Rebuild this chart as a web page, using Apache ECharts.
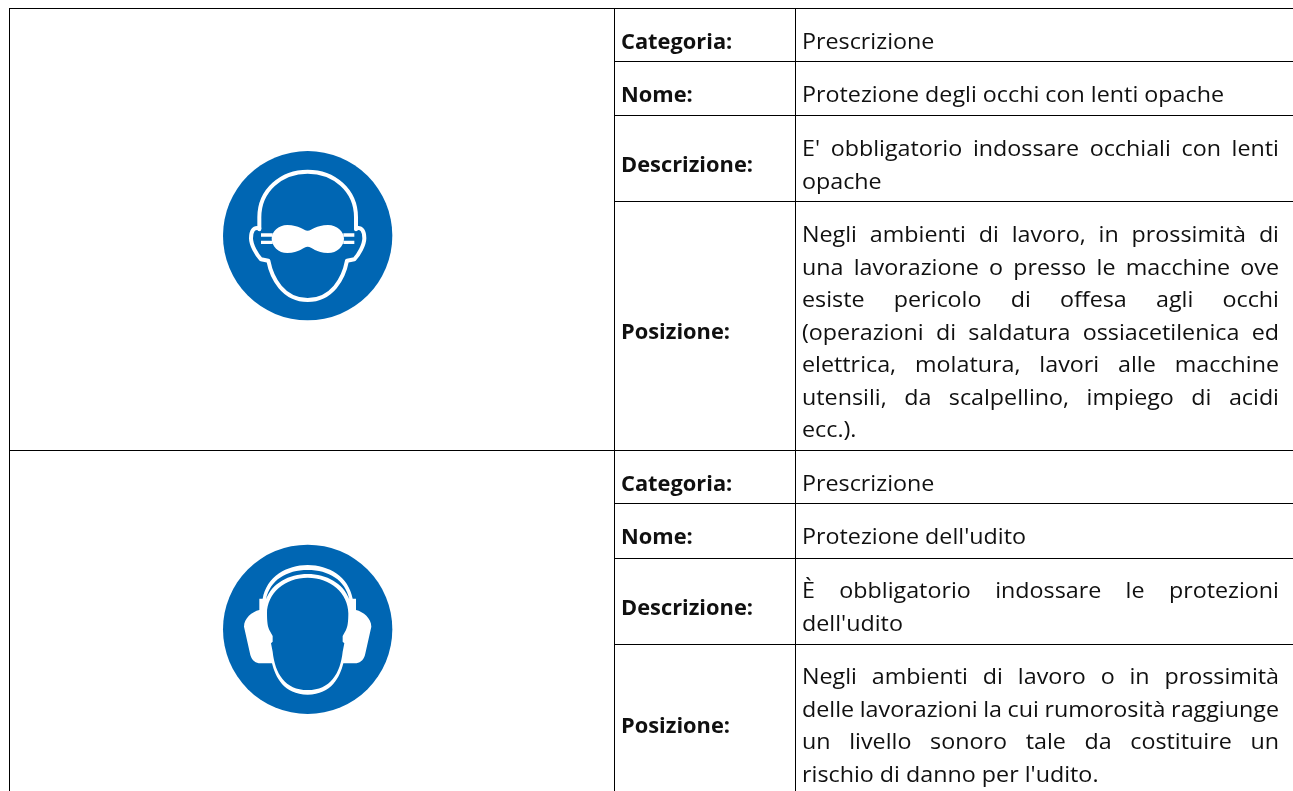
<!DOCTYPE html>
<html><head><meta charset="utf-8">
<style>html,body{margin:0;padding:0;background:#fff}#c{width:1293px;height:791px}</style>
<script src="https://cdn.jsdelivr.net/npm/echarts@6/dist/echarts.min.js"></script>
</head><body><div id="c"></div>
<script>
const labels = ["Categoria:", "Nome:", "Descrizione:", "Posizione:"];
const categoria1 = ["Prescrizione"];
const nome1 = ["Protezione degli occhi con lenti opache"];
const descrizione1 = ["E' obbligatorio indossare occhiali con lenti", "opache"];
const posizione1 = [
  "Negli ambienti di lavoro, in prossimità di",
  "una lavorazione o presso le macchine ove",
  "esiste pericolo di offesa agli occhi",
  "(operazioni di saldatura ossiacetilenica ed",
  "elettrica, molatura, lavori alle macchine",
  "utensili, da scalpellino, impiego di acidi",
  "ecc.)."
];
const categoria2 = ["Prescrizione"];
const nome2 = ["Protezione dell'udito"];
const descrizione2 = ["È obbligatorio indossare le protezioni", "dell'udito"];
const posizione2 = [
  "Negli ambienti di lavoro o in prossimità",
  "delle lavorazioni la cui rumorosità raggiunge",
  "un livello sonoro tale da costituire un",
  "rischio di danno per l'udito."
];

const W = 1293, H = 791;
const FONT = '"Open Sans"', SIZE = 22, INK = '#101010', BLUE = '#0066b3', TEXT_DY = 2;
const X_LEFT = 9, X_A = 614, X_B = 795, LABEL_X = 621, TEXT_X = 802, TEXT_R = 1279, LINE_H = 32.5;
const hLinesTop = [8, 450], hLinesCol = [61, 115, 201, 503, 558, 644];

const ctx = document.createElement('canvas').getContext('2d');
function measure(s, weight) { ctx.font = (weight || 'normal') + ' ' + SIZE + 'px ' + FONT; return ctx.measureText(s).width; }
// horizontal fit of the substitute font to the reference's line widths
const FIT = 422 / measure(nome1[0]);
const FIT_BOLD = 132 / measure(labels[2], 'bold');

const elements = [];
function rect(x, y, w, h) { elements.push({type:'rect', shape:{x, y, width:w, height:h}, style:{fill:'#000'}, silent:true}); }
function txt(s, x, cy, weight) {
  elements.push({type:'text', x, y:cy + TEXT_DY, scaleX: weight === 'bold' ? FIT_BOLD : FIT, silent:true, style:{text:s, x:0, y:0, fill:INK, font:(weight||'normal')+' '+SIZE+'px '+FONT, textAlign:'left', textVerticalAlign:'middle'}});
}
function para(lines, firstCy) {
  lines.forEach((line, i) => {
    const cy = firstCy + i * LINE_H;
    if (i === lines.length - 1) { txt(line, TEXT_X, cy); return; }
    const words = line.split(' ');
    const total = words.reduce((a, w) => a + measure(w) * FIT, 0);
    const gap = (TEXT_R - TEXT_X - total) / (words.length - 1);
    let x = TEXT_X;
    words.forEach(w => { txt(w, x, cy); x += measure(w) * FIT + gap; });
  });
}

hLinesTop.forEach(y => rect(X_LEFT, y, W - X_LEFT, 1));
hLinesCol.forEach(y => rect(X_A, y, W - X_A, 1));
rect(X_LEFT, 8, 1, H - 8);
rect(X_A, 8, 1, H - 8);
rect(X_B, 8, 1, H - 8);

[[41, 94, 164, 331], [483, 536, 607, 725]].forEach(ys => ys.forEach((y, i) => txt(labels[i], LABEL_X, y, 'bold')));
para(categoria1, 41); para(nome1, 94); para(descrizione1, 148); para(posizione1, 234);
para(categoria2, 483); para(nome2, 536); para(descrizione2, 590); para(posizione2, 676);

// icons: outlines registered as shapes, then placed by the graphic component
const white = {fill:'#fff'};
const wline = {fill:'none', stroke:'#fff', lineWidth:12, lineCap:'round', lineJoin:'round'};
let shapeCount = 0;
function svgPath(d, style) {
  const name = 'iconPart' + (shapeCount++);
  echarts.graphic.registerShape(name, echarts.graphic.extendPath(d, {}));
  return {type:name, style, silent:true};
}

elements.push({type:'group', x:200, y:130, scaleX:1/3, scaleY:1/3, silent:true, children:[
  {type:'circle', shape:{cx:323, cy:317, r:254}, style:{fill:BLUE}, silent:true},
  svgPath('M178 298 L178 262 C178 180 245 125 323 125 C401 125 468 180 468 262 L468 298', wline),
  svgPath('M178 295 C160 290 153 305 153 325 C153 345 170 375 183 388 L205 392 C215 445 250 510 323 510 C396 510 431 445 441 392 L463 388 C476 375 493 345 493 325 C493 305 486 290 468 295', wline),
  svgPath('M323 302 C310 302 298 285 262 285 C235 285 215 305 215 326 C215 348 235 369 262 369 C298 369 310 350 323 350 C336 350 348 369 384 369 C411 369 432 348 432 326 C432 305 411 285 384 285 C348 285 336 302 323 302Z', white),
  svgPath('M183 310 H218 V320 H183Z M183 332 H218 V342 H183Z M430 310 H463 V320 H430Z M430 332 H463 V342 H430Z', white)
]});
elements.push({type:'group', x:200, y:530, scaleX:1/3, scaleY:1/3, silent:true, children:[
  {type:'circle', shape:{cx:323, cy:298, r:254}, style:{fill:BLUE}, silent:true},
  svgPath('M178 240 L178 206 L188 206 C200 140 260 105 323 105 C386 105 446 140 458 206 L468 206 L468 240 C490 245 514 265 514 290 L495 375 C490 392 478 400 465 400 L430 400 C420 440 395 494 323 494 C251 494 226 440 216 400 L181 400 C168 400 156 392 151 375 L132 290 C132 265 156 245 178 240Z', white),
  svgPath('M323 143 C255 143 201 190 201 250 C201 275 203 290 208 300 L218 318 L218 335 L213 340 L218 365 C225 430 255 480 323 480 C391 480 421 430 428 365 L433 340 L428 335 L428 318 L438 300 C443 290 445 275 445 250 C445 190 391 143 323 143Z', {fill:BLUE}),
  svgPath('M198 208 C210 150 260 120 323 120 C386 120 436 150 448 208 C430 160 380 132 323 132 C266 132 216 160 198 208Z', {fill:BLUE})
]});

const chart = echarts.init(document.getElementById('c'), null, {renderer:'canvas', width:W, height:H});
chart.setOption({backgroundColor:'#fff', animation:false, graphic:{elements}});
</script></body></html>
